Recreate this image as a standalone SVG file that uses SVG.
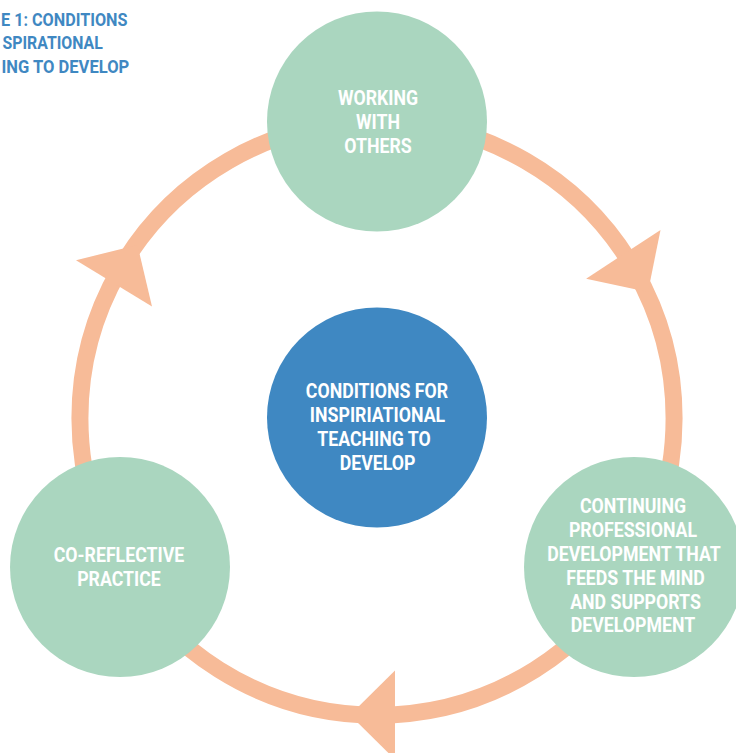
<svg xmlns="http://www.w3.org/2000/svg" width="736" height="753" viewBox="0 0 736 753">
  <style>
    .ring { fill: none; stroke: #F7BB98; stroke-width: 17; }
    .head { fill: #F7BB98; }
    .green { fill: #AAD6BF; }
    .blue { fill: #3F88C2; }
    .lbl { font-family: "Roboto", "Liberation Sans", sans-serif; font-weight: bold; font-size: 19.5px; fill: #FFFFFF; text-anchor: middle; }
    .title { font-family: "Roboto", "Liberation Sans", sans-serif; font-weight: bold; font-size: 18px; fill: #3F88C2; text-anchor: start; }
  </style>
  <rect x="0" y="0" width="736" height="753" fill="#FFFFFF"/>
  <g id="title">
    <text class="title" transform="translate(1 26) scale(0.9 1)">E 1: CONDITIONS</text>
    <text class="title" transform="translate(2.5 49) scale(0.88 1)">SPIRATIONAL</text>
    <text class="title" transform="translate(1.5 72.5) scale(0.92 1)">ING TO DEVELOP</text>
  </g>
  <g id="connectors">
    <path class="ring" d="M 377 121 A 297 297 0 0 1 634 567"/>
    <path class="ring" d="M 634 567 A 297 297 0 0 1 120 567"/>
    <path class="ring" d="M 120 567 A 297 297 0 0 1 377 121"/>
    <polygon class="head" points="648,292 586.1,278.7 660.5,229.9"/>
    <polygon class="head" points="350,715 395,670.5 395,759.5"/>
    <polygon class="head" points="137.5,245 76,260.2 152,306.6"/>
  </g>
  <g id="node-working">
    <circle class="green" cx="377" cy="121.5" r="110"/>
    <text class="lbl" transform="translate(378 105) scale(0.91 1)">WORKING</text>
    <text class="lbl" transform="translate(378 129) scale(0.91 1)">WITH</text>
    <text class="lbl" transform="translate(378 153) scale(0.91 1)">OTHERS</text>
  </g>
  <g id="node-center">
    <circle class="blue" cx="377" cy="417.5" r="110"/>
    <text class="lbl" transform="translate(377 397.5) scale(0.91 1)">CONDITIONS FOR</text>
    <text class="lbl" transform="translate(377.5 421.5) scale(0.91 1)">INSPIRIATIONAL</text>
    <text class="lbl" transform="translate(374 445.5) scale(0.91 1)">TEACHING TO</text>
    <text class="lbl" transform="translate(377.5 469.5) scale(0.91 1)">DEVELOP</text>
  </g>
  <g id="node-cpd">
    <circle class="green" cx="634" cy="567" r="110"/>
    <text class="lbl" transform="translate(633 512.5) scale(0.91 1)">CONTINUING</text>
    <text class="lbl" transform="translate(633 537) scale(0.91 1)">PROFESSIONAL</text>
    <text class="lbl" transform="translate(634 561) scale(0.91 1)">DEVELOPMENT THAT</text>
    <text class="lbl" transform="translate(635.5 584.5) scale(0.91 1)">FEEDS THE MIND</text>
    <text class="lbl" transform="translate(635.5 608.5) scale(0.91 1)">AND SUPPORTS</text>
    <text class="lbl" transform="translate(633 632) scale(0.91 1)">DEVELOPMENT</text>
  </g>
  <g id="node-coreflective">
    <circle class="green" cx="120" cy="567" r="110"/>
    <text class="lbl" transform="translate(119 561.5) scale(0.91 1)">CO-REFLECTIVE</text>
    <text class="lbl" transform="translate(119 585.5) scale(0.91 1)">PRACTICE</text>
  </g>
</svg>
